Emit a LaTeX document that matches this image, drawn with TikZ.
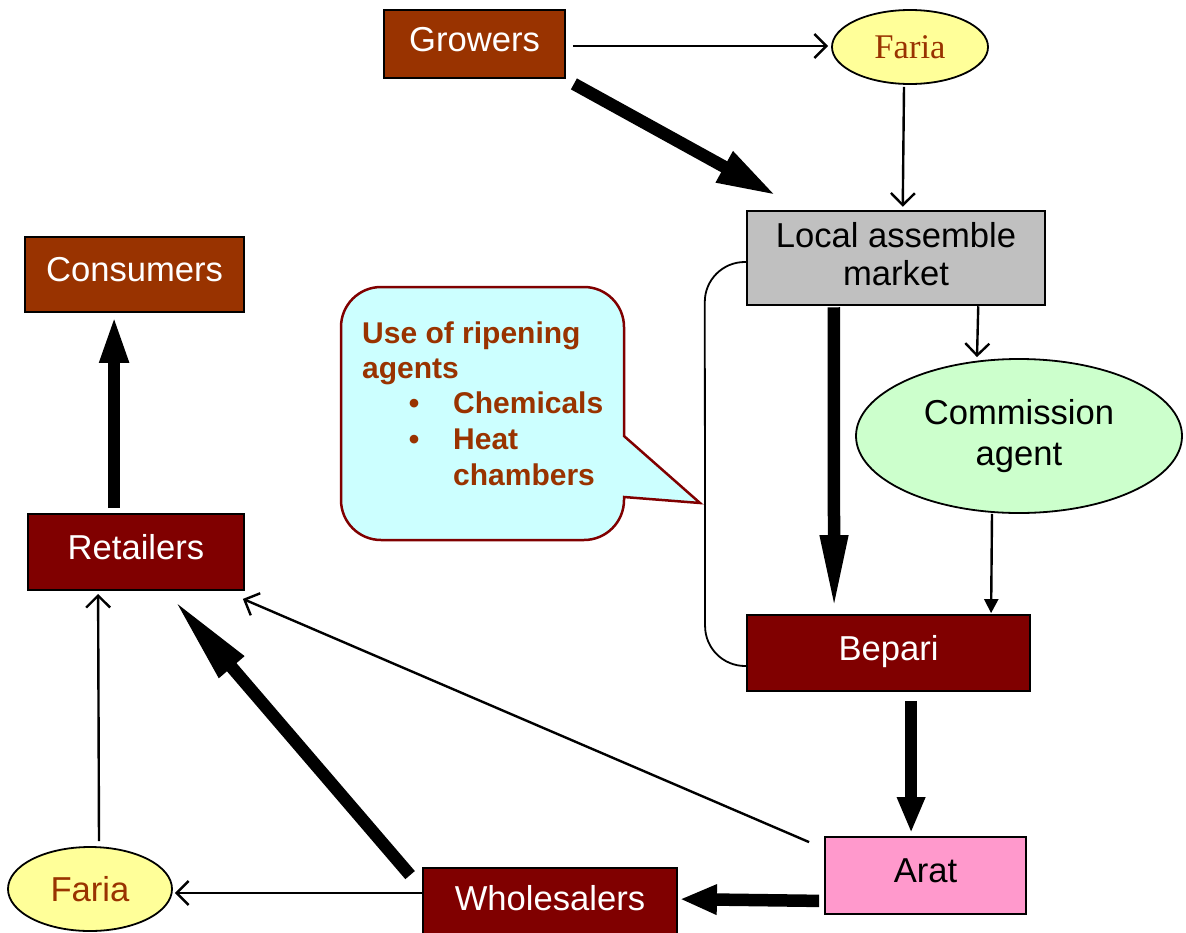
\documentclass[tikz,border=0pt]{standalone}
\usepackage{fontspec}
\setmainfont{Liberation Sans}
\newfontfamily\timesface{Liberation Serif}
\usetikzlibrary{arrows.meta,shapes.geometric,calc}
\definecolor{rust}{HTML}{993300}
\definecolor{darkred}{HTML}{800000}
\definecolor{silvergray}{HTML}{C0C0C0}
\definecolor{mint}{HTML}{CCFFCC}
\definecolor{lemon}{HTML}{FFFF99}
\definecolor{rose}{HTML}{FF99CC}
\definecolor{ice}{HTML}{CCFFFF}
\begin{document}
\begin{tikzpicture}[x=1pt,y=-1pt,
  box/.style={draw=black,line width=1.8pt,rectangle,inner sep=0pt,
    font=\fontsize{34.6}{38}\selectfont},
  oval/.style={draw=black,line width=1.8pt,ellipse,inner sep=0pt,
    font=\fontsize{34.6}{41}\selectfont},
  oneline/.style={text height=25pt,text depth=11pt},
  twoline/.style={text depth=8pt},
  smallflow/.style={line width=2.4pt,-{Straight Barb[length=12pt,width=24pt,line width=2.4pt]}},
  smalltri/.style={line width=2.4pt,-{Triangle[length=14pt,width=14pt]}},
  bigflow/.style n args={2}{line width=12.5pt,-{Triangle[length=#1,width=#2]}},
  bracket/.style={line width=1.8pt,rounded corners=40pt},
  calltext/.style={anchor=base west,inner sep=0pt,text=rust,
    font=\bfseries\fontsize{30}{36}\selectfont},
  bubble/.style={line width=2.5pt,draw=darkred,fill=ice}]

\useasboundingbox (0,0) rectangle (1186,932);

% speech bubble
\draw[bubble] (341,327) arc[start angle=180,end angle=270,radius=40]
  -- (584,287) arc[start angle=270,end angle=360,radius=40]
  -- (624,436) -- (700,503) -- (624,497) -- (624,500)
  arc[start angle=0,end angle=90,radius=40]
  -- (381,540) arc[start angle=90,end angle=180,radius=40] -- cycle;
\node[calltext] (c1) at (362,343) {Use of ripening};
\node[calltext] (c2) at (362,378) {agents};
\node[calltext,anchor=base] (b1) at (414,413) {\textbullet};
\node[calltext] (c3) at (453,413) {Chemicals};
\node[calltext,anchor=base] (b2) at (414,449) {\textbullet};
\node[calltext] (c4) at (453,449) {Heat};
\node[calltext] (c5) at (453,485) {chambers};

% market actors
\node[box,oneline,fill=rust,text=white,minimum width=181pt,minimum height=68pt] (gro) at (474.5,44) {Growers};
\node[oval,fill=lemon,text=rust,minimum width=156pt,minimum height=74pt,
  font=\timesface\fontsize{34.6}{38}\selectfont] (far1) at (910,47) {Faria};
\node[box,twoline,fill=silvergray,line width=2.5pt,minimum width=298pt,minimum height=94pt,align=center] (loc) at (896,258) {Local assemble\\market};
\node[box,oneline,fill=rust,text=white,minimum width=219pt,minimum height=75pt] (con) at (134.5,274.5) {Consumers};
\node[oval,fill=mint,minimum width=326pt,minimum height=154pt,align=center] (com) at (1019,436) {Commission\\agent};
\node[box,oneline,fill=darkred,text=white,minimum width=216pt,minimum height=76pt] (ret) at (136,552) {Retailers};
\node[box,oneline,fill=darkred,text=white,minimum width=283pt,minimum height=76pt] (bep) at (888.5,653) {Bepari};
\node[box,oneline,fill=rose,minimum width=201pt,minimum height=77pt] (arat) at (925.5,875.5) {Arat};
\node[box,oneline,fill=darkred,text=white,minimum width=254pt,minimum height=70pt] (who) at (550,903) {Wholesalers};
\node[oval,fill=lemon,text=rust,minimum width=164pt,minimum height=84pt] (far2) at (90,889) {Faria};

% flows
\draw[smallflow] ($(gro.east)+(7,2)$) -- ($(far1.west)+(-3,-1)$);
\draw[smallflow] ($(far1.south)+(-6,2)$) -- ($(loc.north west)+(157,-3)$);
\draw[bigflow={60pt}{32pt}] ($(gro.south east)+(8,5)$) -- ($(loc.north west)+(31,-14)$);
\draw[bigflow={78pt}{25pt}] ($(loc.south west)+(88,1)$) -- ($(bep.north west)+(88,-1)$);
\draw[smallflow] ($(loc.south east)+(-68,0)$) -- ($(com.north)+(-42,-1)$);
\draw[smalltri] ($(com.south)+(-27,0)$) -- ($(bep.north west)+(245,-1)$);
\draw[bracket] ($(loc.west)+(0,4)$) -- ($(loc.west)+(-41,4)$) -- ($(bep.west)+(-41,13)$) -- ($(bep.west)+(0,13)$);
\draw[bigflow={36pt}{26pt}] ($(bep.south west)+(165,9)$) -- ($(arat.north west)+(87,-3)$);
\draw[bigflow={37pt}{28pt}] ($(arat.south west)+(-5,-14)$) -- ($(who.north east)+(2,32)$);
\draw[smallflow] ($(arat.north west)+(-15,6)$) -- ($(ret.south east)+(-2,8)$);
\draw[bigflow={90pt}{30pt}] ($(who.north west)+(-12,8)$) -- ($(ret.south west)+(146,8)$);
\draw[smallflow] ($(who.west)+(0,-10)$) -- ($(far2.east)+(2,4)$);
\draw[smallflow] ($(far2.north)+(9,-5)$) -- ($(ret.south west)+(71,3)$);
\draw[bigflow={49pt}{26pt}] ($(ret.north west)+(87,-5)$) -- ($(con.south west)+(90,1)$);
\end{tikzpicture}
\end{document}
